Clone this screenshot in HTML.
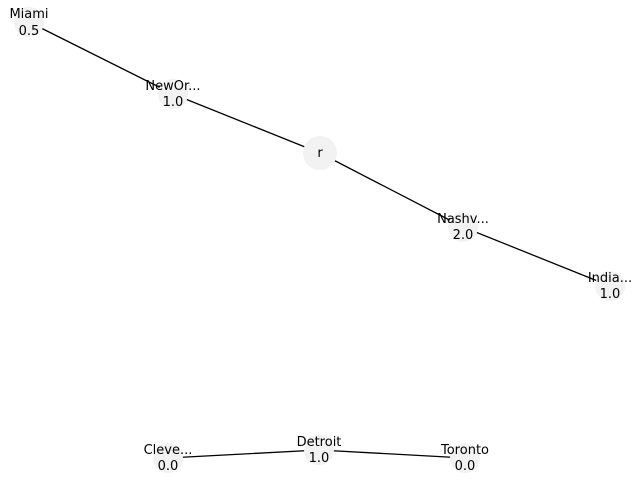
<!DOCTYPE html>
<html><head><style>body{margin:0;background:#fff}</style></head><body>
<svg width="640" height="480" viewBox="0 0 640 480" xmlns="http://www.w3.org/2000/svg" font-family="DejaVu Sans, sans-serif" font-size="13" fill="#000">
<g stroke="#000" stroke-width="1.3">
<line x1="29" y1="22" x2="173" y2="94"/>
<line x1="173" y1="94" x2="320" y2="153"/>
<line x1="320" y1="153" x2="463" y2="227"/>
<line x1="463" y1="227" x2="610" y2="286"/>
<line x1="168" y1="458" x2="319" y2="450"/>
<line x1="319" y1="450" x2="465" y2="458"/>
</g>
<g fill="#f2f2f2">
<circle cx="29" cy="22" r="15"/>
<circle cx="173" cy="94" r="15"/>
<circle cx="320" cy="153" r="17"/>
<circle cx="463" cy="227" r="15"/>
<circle cx="610" cy="286" r="15"/>
<circle cx="168" cy="458" r="15"/>
<circle cx="319" cy="450" r="15"/>
<circle cx="465" cy="458" r="15"/>
</g>
<g text-anchor="middle">
<text x="29" y="18">Miami</text><text x="29" y="35">0.5</text>
<text x="173" y="90">NewOr...</text><text x="173" y="106">1.0</text>
<text x="320" y="157">r</text>
<text x="463" y="223">Nashv...</text><text x="463" y="239">2.0</text>
<text x="610" y="282">India...</text><text x="610" y="298">1.0</text>
<text x="168" y="454">Cleve...</text><text x="168" y="470">0.0</text>
<text x="319" y="446">Detroit</text><text x="319" y="462">1.0</text>
<text x="465" y="454">Toronto</text><text x="465" y="470">0.0</text>
</g>
</svg>
</body></html>
